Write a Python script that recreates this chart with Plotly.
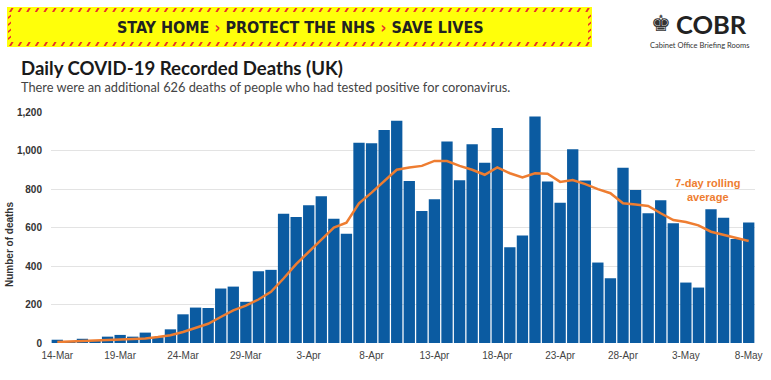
import plotly.graph_objects as go
import pandas as pd

W, H = 771, 380

# ---------------- data ----------------
dates = pd.date_range("2020-03-14", "2020-05-08", freq="D")
day_labels = [f"{d.day}-{d.strftime('%b')}" for d in dates]

daily_deaths = [17, 10, 22, 15, 33, 42, 33, 54, 30, 71,
                149, 184, 182, 283, 293, 214, 373, 380, 672, 655,
                715, 762, 646, 568, 1040, 1038, 1106, 1155, 842, 686,
                747, 1047, 846, 1033, 936, 1117, 498, 559, 1176, 839,
                728, 1007, 844, 418, 337, 910, 795, 674, 742, 622,
                314, 288, 695, 651, 540, 626]

rolling_avg = [5, 8, 11, 14, 16, 17, 20, 24, 31, 40,
               57, 78, 100, 135, 170, 194, 226, 266, 335, 410,
               474, 538, 599, 625, 726, 781, 839, 900, 912, 920,
               946, 945, 920, 900, 874, 912, 882, 860, 882, 879,
               837, 847, 825, 799, 778, 726, 719, 712, 674, 639,
               629, 611, 578, 561, 547, 530]

tick_labels = day_labels[::5]
y_ticks = [0, 200, 400, 600, 800, 1000, 1200]

BLUE = "#0b5ba1"
ORANGE = "#ee7d31"

# ---------------- helpers for pixel placement ----------------
def px(x):
    return x / W

def py(y):
    return 1 - y / H

fig = go.Figure()
fig.add_trace(go.Bar(x=day_labels, y=daily_deaths, marker=dict(color=BLUE, line=dict(width=0)),
                     hoverinfo="x+y", showlegend=False))
fig.add_trace(go.Scatter(x=day_labels, y=rolling_avg, mode="lines",
                         line=dict(color=ORANGE, width=2.5), showlegend=False))

# ---------------- banner ----------------
shapes = []
bx0, bx1, by0, by1 = 7, 592, 7, 47
shapes.append(dict(type="rect", xref="paper", yref="paper",
                   x0=px(bx0), x1=px(bx1), y0=py(by1), y1=py(by0),
                   fillcolor="#ffff0a", line=dict(width=0), layer="below"))
path = ""
step = 8.6
x = bx0 + 2
while x < bx1 - 4:
    for (ya, yb) in ((by0 + 1, by0 + 5), (by1 - 5, by1 - 1)):
        p = [(x, yb), (x + 2.2, yb), (x + 4.6, ya), (x + 2.4, ya)]
        path += "M" + " L".join(f"{px(a):.5f},{py(b):.5f}" for a, b in p) + " Z "
    x += step
yv = by0 + 8
while yv < by1 - 8:
    for xa in (bx0 + 1, bx1 - 4):
        p = [(xa, yv + 4), (xa + 3, yv + 1.5), (xa + 3, yv - 0.5), (xa, yv + 2)]
        path += "M" + " L".join(f"{px(a):.5f},{py(b):.5f}" for a, b in p) + " Z "
    yv += 7
shapes.append(dict(type="path", xref="paper", yref="paper", path=path,
                   fillcolor="#e8322a", line=dict(width=0)))

chev = "<span style='color:#e8322a'>›</span>"
annotations = [
    dict(text=f"STAY HOME {chev} PROTECT THE NHS {chev} SAVE LIVES",
         x=px(300), y=py(27), xref="paper", yref="paper", showarrow=False,
         xanchor="center", yanchor="middle",
         font=dict(family="Liberation Sans Narrow, DejaVu Sans Condensed, Arial Narrow, sans-serif",
                   size=16, color="#222222", weight="bold")),
    # COBR logo
    dict(text="♚", x=px(661), y=py(24), xref="paper", yref="paper", showarrow=False,
         xanchor="center", yanchor="middle",
         font=dict(family="DejaVu Sans", size=22, color="#333333")),
    dict(text="COBR", x=px(674), y=py(24), xref="paper", yref="paper", showarrow=False,
         xanchor="left", yanchor="middle",
         font=dict(family="Lato, Open Sans, sans-serif", size=25.5, color="#222222", weight="bold")),
    dict(text="Cabinet Office Briefing Rooms", x=px(699), y=py(45), xref="paper", yref="paper",
         showarrow=False, xanchor="center", yanchor="middle",
         font=dict(family="Lato, Open Sans, sans-serif", size=7.5, color="#333333")),
    # titles
    dict(text="Daily COVID-19 Recorded Deaths (UK)", x=px(19), y=py(68), xref="paper", yref="paper",
         showarrow=False, xanchor="left", yanchor="middle",
         font=dict(family="Lato, Open Sans, sans-serif", size=18.6, color="#1a1a1a", weight="bold")),
    dict(text="There were an additional 626 deaths of people who had tested positive for coronavirus.",
         x=px(19), y=py(87), xref="paper", yref="paper", showarrow=False,
         xanchor="left", yanchor="middle",
         font=dict(family="Lato, Open Sans, sans-serif", size=12.8, color="#444444")),
    # axis title
    dict(text="Number of deaths", x=px(9), y=py(245), xref="paper", yref="paper",
         showarrow=False, textangle=-90, xanchor="center", yanchor="middle",
         font=dict(family="Liberation Sans, Arial, sans-serif", size=10, color="#333333", weight="bold")),
    # line label
    dict(text="7-day rolling<br>average", x=px(707), y=py(190), xref="paper", yref="paper",
         showarrow=False, xanchor="center", yanchor="middle",
         font=dict(family="Liberation Sans, Arial, sans-serif", size=11, color=ORANGE, weight="bold")),
]

fig.update_layout(
    width=W, height=H,
    margin=dict(l=0, r=0, t=0, b=0, autoexpand=False),
    paper_bgcolor="white", plot_bgcolor="white",
    bargap=0.1,
    shapes=shapes,
    annotations=annotations,
    xaxis=dict(domain=[px(51), px(755)], type="category", automargin=False,
               tickmode="array", tickvals=tick_labels, ticktext=tick_labels,
               tickfont=dict(family="Liberation Sans, Arial, sans-serif", size=10, color="#444444"),
               showgrid=False, zeroline=False, showline=False,
               ticks="outside", ticklen=3, tickcolor="rgba(0,0,0,0)"),
    yaxis=dict(domain=[37 / H, 268 / H], range=[0, 1200], automargin=False,
               tickmode="array", tickvals=y_ticks, tickformat=",",
               tickfont=dict(family="Liberation Sans, Arial, sans-serif", size=10, color="#333333",
                             weight="bold"),
               showgrid=True, gridcolor="#e3e3e3", gridwidth=1,
               zeroline=False, showline=False,
               ticks="outside", ticklen=6, tickcolor="rgba(0,0,0,0)"),
)

fig.write_html("out.html", config={"displayModeBar": False},
               post_script="document.body.style.margin='0';document.body.style.overflow='hidden';")
